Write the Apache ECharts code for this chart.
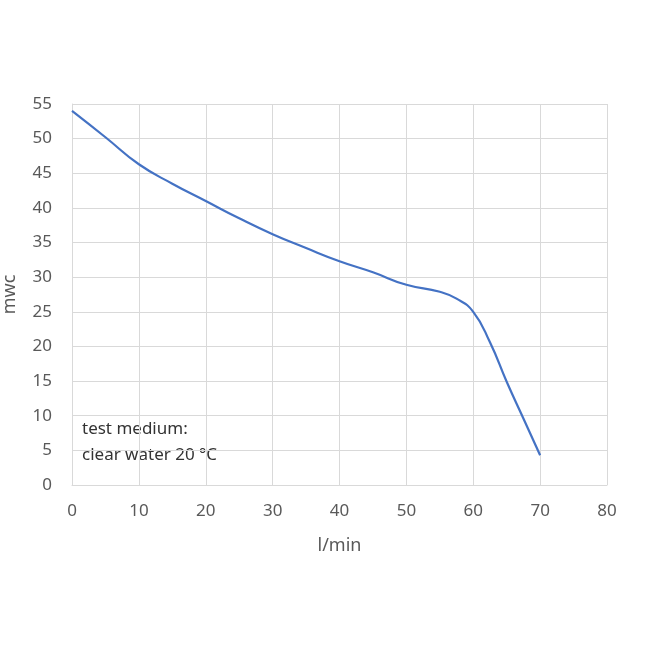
<!DOCTYPE html>
<html><head><meta charset="utf-8">
<script src="https://cdn.jsdelivr.net/npm/echarts@6/dist/echarts.min.js"></script>
<style>html,body{margin:0;padding:0;background:#fff}#c{width:650px;height:650px}</style>
</head><body><div id="c"></div>
<script>
const flow = [0, 5, 10, 15, 20, 25, 30, 35, 40, 45, 50, 55, 57.5, 60, 62.5, 65, 67.5, 70];
const head = [54, 50.2, 46.3, 43.5, 41, 38.5, 36.2, 34.2, 32.3, 30.7, 28.9, 27.9, 26.9, 25.0, 20.6, 14.9, 9.6, 4.3];
const xTitle = 'l/min';
const yTitle = 'mwc';
const note = 'test medium:\nclear water 20 °C';

const chart = echarts.init(document.getElementById('c'), null, {renderer: 'canvas'});
const font = '"Noto Sans", "Open Sans", sans-serif';
chart.setOption({
  animation: false,
  backgroundColor: '#ffffff',
  grid: {left: 72, right: 43, top: 104, bottom: 165, containLabel: false, outerBoundsMode: 'none'},
  xAxis: {
    type: 'value', min: 0, max: 80, interval: 10,
    name: xTitle, nameLocation: 'middle', nameGap: 52,
    nameTextStyle: {color: '#595959', fontSize: 18, fontFamily: font},
    axisLine: {show: true, lineStyle: {color: '#d9d9d9', width: 1}},
    axisTick: {show: false},
    axisLabel: {color: '#595959', fontSize: 17, fontFamily: font, margin: 18},
    splitLine: {show: true, lineStyle: {color: '#d9d9d9', width: 1}}
  },
  yAxis: {
    type: 'value', min: 0, max: 55, interval: 5,
    name: yTitle, nameLocation: 'middle', nameGap: 53,
    nameTextStyle: {color: '#595959', fontSize: 18, fontFamily: font},
    axisLine: {show: true, lineStyle: {color: '#d9d9d9', width: 1}},
    axisTick: {show: false},
    axisLabel: {color: '#595959', fontSize: 17, fontFamily: font, margin: 20},
    splitLine: {show: true, lineStyle: {color: '#d9d9d9', width: 1}}
  },
  graphic: [{
    type: 'text', left: 82, top: 416,
    style: {text: note, fill: '#333333', font: '17px ' + font, lineHeight: 26}
  }],
  series: [{
    type: 'line',
    data: flow.map((x, i) => [x, head[i]]),
    smooth: 0.5,
    showSymbol: false,
    lineStyle: {color: '#4472c4', width: 2.2},
    itemStyle: {color: '#4472c4'}
  }]
});
</script></body></html>
